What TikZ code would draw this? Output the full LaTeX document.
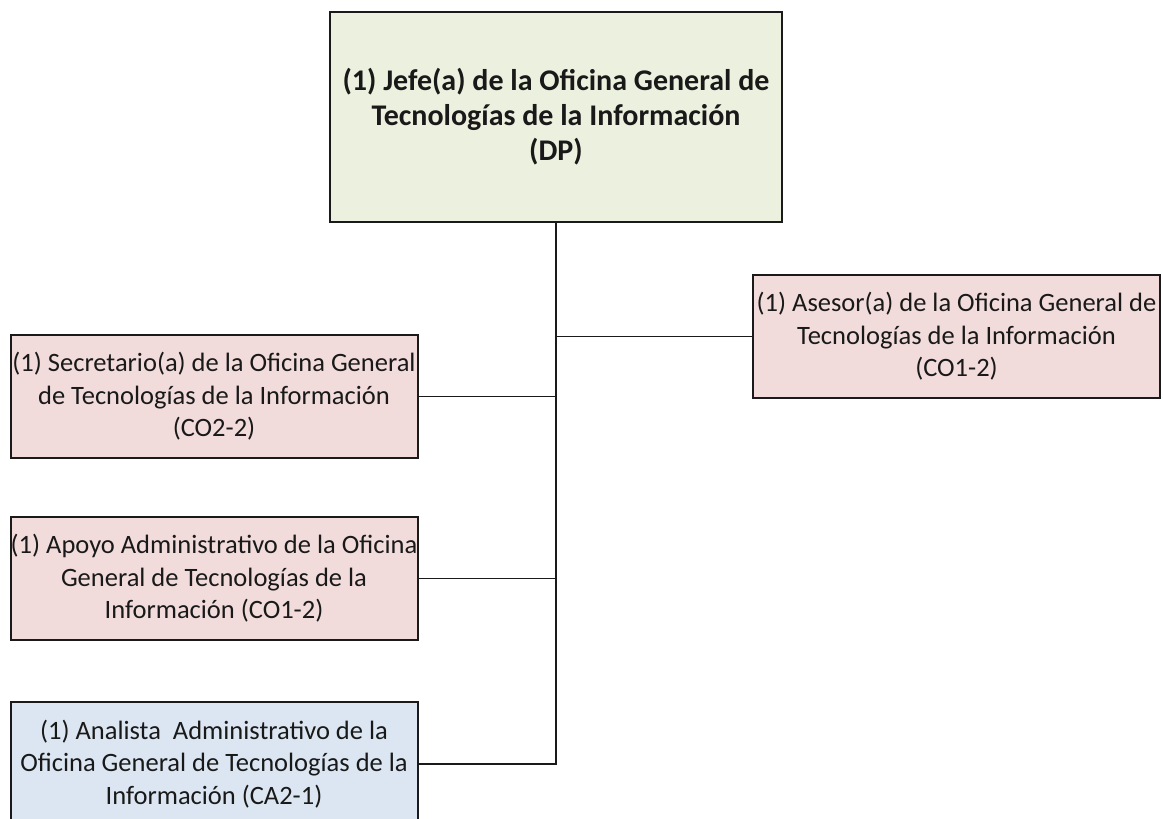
\documentclass[tikz,border=0pt]{standalone}
\usepackage{fontspec}
\setmainfont{Carlito}
\definecolor{jefefill}{HTML}{EBF1DE}
\definecolor{pinkfill}{HTML}{F2DCDB}
\definecolor{bluefill}{HTML}{DCE6F2}
\definecolor{linec}{HTML}{1A1A1A}
\begin{document}
\begin{tikzpicture}[x=1pt,y=-1pt,
  box/.style={draw=linec,line width=2pt,inner sep=0pt,align=center,
    font=\fontsize{26.5}{32.5}\selectfont,text=black!90},
  pinkbox/.style={box,fill=pinkfill,minimum width=407pt,minimum height=123pt},
  bluebox/.style={box,fill=bluefill,minimum width=407pt,minimum height=124pt},
  conn/.style={draw=linec,line width=1.3pt}]
\useasboundingbox (0,0) rectangle (1163,819);
\node[box,fill=jefefill,minimum width=452pt,minimum height=210pt,
  font=\fontsize{30}{35}\selectfont\bfseries] (jefe) at (556,117)
  {(1) Jefe(a) de la Oficina General de\\Tecnologías de la Información\\(DP)};
\node[pinkbox] (ase) at (956.5,336.5)
  {(1) Asesor(a) de la Oficina General de\\Tecnologías de la Información\\(CO1-2)};
\node[pinkbox] (sec) at (214,396.5)
  {(1) Secretario(a) de la Oficina General\\de Tecnologías de la Información\\(CO2-2)};
\node[pinkbox] (apo) at (214,578.5)
  {(1) Apoyo Administrativo de la Oficina\\General de Tecnologías de la\\Información (CO1-2)};
\node[bluebox] (ana) at (214,764)
  {(1) Analista\ \ Administrativo de la\\Oficina General de Tecnologías de la\\Información (CA2-1)};
\draw[conn] (jefe.south) -- (jefe.south |- ana.east) -- (ana.east);
\draw[conn] (jefe.south |- ase.west) -- (ase.west);
\draw[conn] (sec.east) -- (sec.east -| jefe.south);
\draw[conn] (apo.east) -- (apo.east -| jefe.south);
\end{tikzpicture}
\end{document}
